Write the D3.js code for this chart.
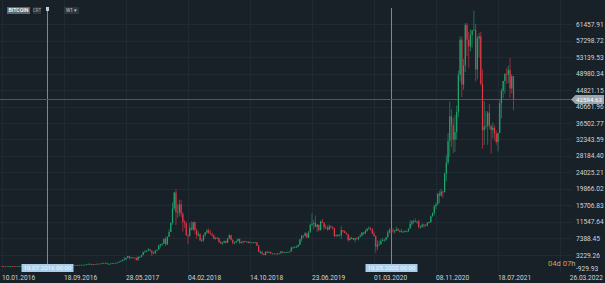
<!DOCTYPE html>
<html>
<head>
<meta charset="utf-8">
<script src="https://cdn.jsdelivr.net/npm/d3@7"></script>
<style>
  html, body { margin: 0; padding: 0; background: #192128; }
  svg { display: block; font-family: Roboto, "Noto Sans", sans-serif; }
</style>
</head>
<body>
<div id="chart"></div>
<script>
// weekly candles, first week starts 10.01.2016; each row is [high, low, close], open = previous close
const firstWeek = "2016-01-10";
const firstOpen = 448;

const weeks2016 = [
  [450,360,382],[410,370,387],[398,366,378],[380,365,373],[410,368,404],[440,400,438],[445,405,433],[440,400,408],
  [420,400,412],[420,405,408],[420,405,417],[423,410,420],[425,414,420],[430,418,427],[465,427,460],[467,440,455],
  [465,440,459],[460,450,456],[456,438,444],[535,440,530],[590,520,574],[700,570,684],[780,680,762],[770,550,665],
  [690,620,677],[705,630,652],[680,640,667],[680,650,655],[660,620,624],[630,480,588],[600,560,567],[590,565,581],
  [590,565,571],[610,570,603],[625,600,608],[612,600,609],[612,595,602],[615,598,612],[620,605,617],[640,615,640],
  [660,635,655],[720,650,712],[740,680,703],[718,690,703],[745,690,741],[745,725,735],[770,730,766],[775,750,769],
  [795,765,791],[935,790,893],[1000,880,998]
];
const weeks2017 = [
  [1140,750,908],[915,750,818],[925,810,923],[925,880,918],[1025,915,1024],[1070,940,1000],[1050,990,1050],[1185,1045,1180],
  [1280,1170,1270],[1330,1100,1230],[1250,940,960],[1100,900,965],[1090,950,1080],[1200,1060,1190],[1210,1150,1180],[1250,1175,1250],
  [1350,1240,1350],[1600,1340,1560],[1840,1560,1720],[2050,1700,2050],[2760,2000,2050],[2550,2050,2500],[2980,2450,2950],[3000,2100,2500],
  [2800,2450,2600],[2650,2350,2560],[2650,2400,2500],[2550,1850,1930],[2950,1920,2750],[2850,2500,2750],[3300,2650,3200],[4000,3150,4000],
  [4450,3800,4100],[4400,3950,4350],[4950,4300,4600],[4800,4100,4300],[4400,2980,3680],[4100,3500,3600],[4400,3600,4360],[4600,4150,4600],
  [5800,4600,5700],[6000,5100,6000],[6200,5500,6100],[7400,6000,7300],[7900,5500,5900],[7900,5800,7800],[9700,7800,9000],[11500,9000,11300],
  [16500,10800,15000],[19000,14500,19000],[19900,10800,14000],[16000,12500,14000],[17200,13000,16000]
];
const weeks2018 = [
  [17100,12800,13600],[14000,9100,11500],[12000,10000,11200],[11700,8100,8200],[8500,6000,8100],[11300,7800,10100],[11700,9400,9600],[11600,9400,11500],
  [11700,8500,9500],[9900,7300,8200],[9200,7900,8500],[8700,6800,6900],[7500,6500,7000],[8400,6600,8300],[9000,7800,8900],[9800,8600,9400],
  [9900,8800,8700],[9500,8400,8500],[8900,7900,8200],[8400,7200,7300],[7700,7100,7500],[7800,7400,7500],[7600,6300,6500],[6800,6100,6100],
  [6500,5800,6400],[6800,6200,6800],[6800,6100,6300],[7500,6300,7400],[8500,7300,8200],[8300,6900,7000],[7200,5900,6300],[6600,5900,6400],
  [6900,6200,6700],[7300,6700,7300],[7400,6100,6200],[6600,6200,6500],[6800,6100,6700],[6800,6400,6600],[6700,6500,6600],[6700,6100,6300],
  [6700,6300,6400],[6500,6400,6400],[6500,6200,6400],[6600,6300,6400],[6500,5500,5600],[5700,4000,4000],[4400,3600,4000],[4300,3300,3500],
  [3600,3200,3200],[4200,3200,4000],[4300,3600,3900],[4100,3700,4000]
];
const weeks2019 = [
  [4100,3500,3600],[3700,3500,3600],[3700,3500,3550],[3600,3400,3450],[3700,3400,3650],[3700,3550,3650],[4200,3600,4100],[4200,3700,3850],
  [3950,3700,3900],[4000,3850,4000],[4100,3900,4000],[4150,3950,4100],[5300,4100,5100],[5400,4900,5100],[5400,5000,5300],[5600,5100,5300],
  [5900,5200,5800],[7300,5700,7200],[8300,6600,8100],[8200,7500,8000],[9000,7900,8700],[8800,7500,7600],[9300,7500,8900],[11200,8900,10800],
  [13800,10500,11000],[12000,9700,11300],[13200,10300,10300],[11000,9100,10900],[10800,9200,9500],[11900,9400,11700],[12300,11300,11300],[11500,9600,10200],
  [10900,9800,10100],[10600,9400,9600],[10900,9600,10400],[10800,9900,10300],[10400,9600,10000],[10100,7700,8000],[8500,7800,8200],[8500,7800,8300],
  [8500,7900,8200],[10500,7300,9500],[9500,8900,9200],[9500,8700,8800],[8900,8300,8500],[8500,6600,7000],[7900,6900,7400],[7800,7200,7500],
  [7600,7000,7100],[7500,6400,7500],[7700,7100,7300],[7800,6900,7800]
];
const weeks2020 = [
  [8500,7700,8100],[9000,8000,8900],[9000,8300,8600],[9600,8500,9300],[9900,9100,9900],[10500,9700,9900],[10300,9400,9700],[10000,8500,8600],
  [9200,8000,8000],[8200,3800,5300],[6900,4500,5800],[6900,5700,5900],[7300,5900,6800],[7500,6700,7000],[7300,6500,7100],[7800,6800,7700],
  [9500,7600,8900],[10000,8700,9500],[9900,8100,9400],[10000,8800,9200],[9600,8600,9400],[10400,9200,9700],[10000,9300,9300],[9600,8900,9300],
  [9800,8900,9000],[9300,8900,9100],[9500,9000,9200],[9300,9000,9200],[9900,9100,9900],[12000,9900,11100],[12000,10600,11700],[12100,11100,11800],
  [12500,11500,11700],[11800,11100,11700],[12100,9900,10300],[10600,9900,10300],[11200,10200,10900],[11100,10100,10700],[11000,10400,10700],[11500,10500,11400],
  [11700,11200,11500],[13200,11400,13000],[14000,12900,13800],[15900,13200,15500],[16500,14800,16000],[18800,15900,18700],[19400,16300,18200],[19900,18000,19200],
  [19400,17600,19100],[24000,19000,23800],[28400,21800,26500],[34000,26000,32000]
];
const weeks2021 = [
  [41900,28000,38200],[40000,30500,36000],[37800,28800,32300],[38500,29200,34200],[40900,32300,39300],[49700,38000,48600],[58300,47000,57500],[58300,43000,46200],
  [52600,44900,51000],[61700,49300,61200],[61700,53300,57500],[59500,50400,55800],[60100,54600,58700],[60000,55500,59800],[64800,59700,60000],[61500,47000,50000],
  [58500,47500,57800],[59200,53000,58300],[59500,46000,46400],[50000,30000,34700],[42000,31000,35600],[39500,35000,35800],[39500,31000,39100],[41300,35000,35800],
  [36000,28800,34700],[36600,32700,35300],[35900,32100,33800],[34600,31000,31700],[34000,29300,34000],[42300,33900,41500],[45200,37700,44600],[47100,42800,47100],
  [49000,43900,48900],[50400,46400,48800],[51000,46500,49900],[52900,42800,45200],[48800,44000,48300],[48300,39700,42594.63]
];

const priceTicks = ["61457.91","57298.72","53139.53","48980.34","44821.15","40661.96","36502.77","32343.59",
  "28184.40","24025.21","19866.02","15706.83","11547.64","7388.45","3229.26","-929.93"];
const dateTicks = ["10.01.2016","18.09.2016","28.05.2017","04.02.2018","14.10.2018","23.06.2019","01.03.2020","08.11.2020","18.07.2021","26.03.2022"];
const markerDates = ["10.07.2016 00:00","10.05.2020 00:00"];
const lastPrice = 42594.63;
const symbol = "BITCOIN";
const timeLeft = [["04","d"],["07","h"]];

class CandleChart {
  constructor(_config, rows) {
    this.config = {
      parentElement: _config.parentElement,
      containerWidth: 605,
      containerHeight: 283,
      plotRight: 572,
      up: "#1ea66c",
      down: "#e3374a",
      bg: "#192128"
    };
    this.rows = rows;
    this.initVis();
  }

  initVis() {
    let vis = this;
    const parseD = d3.timeParse("%d.%m.%Y");
    const parseDT = d3.timeParse("%d.%m.%Y %H:%M");

    vis.svg = d3.select(vis.config.parentElement).append("svg")
      .attr("width", vis.config.containerWidth)
      .attr("height", vis.config.containerHeight);

    vis.svg.append("rect").attr("width", vis.config.containerWidth).attr("height", vis.config.containerHeight)
      .attr("fill", vis.config.bg);

    // 36 weeks = 62px
    const d0 = parseD(dateTicks[0]);
    const d1 = parseD(dateTicks[dateTicks.length - 1]);
    vis.x = d3.scaleTime().domain([d0, d1]).range([2, 2 + d3.timeDay.count(d0, d1) * 62 / 252]);
    vis.y = d3.scaleLinear().domain([+priceTicks[priceTicks.length - 1], +priceTicks[0]]).range([271.5, 24]);

    const start = d3.timeParse("%Y-%m-%d")(firstWeek);
    let prev = firstOpen;
    vis.data = vis.rows.map((r, i) => {
      const c = { date: d3.timeWeek.offset(start, i), open: prev, high: r[0], low: r[1], close: r[2] };
      prev = r[2];
      return c;
    });

    // grid
    const grid = vis.svg.append("g").attr("stroke", "#202a32").attr("stroke-width", 1);
    grid.selectAll(".vg").data(dateTicks).join("line")
      .attr("x1", d => Math.round(vis.x(parseD(d))) + 0.5).attr("x2", d => Math.round(vis.x(parseD(d))) + 0.5)
      .attr("y1", 0).attr("y2", 272);
    grid.selectAll(".hg").data(priceTicks.slice(0, -1)).join("line")
      .attr("x1", 0).attr("x2", vis.config.plotRight)
      .attr("y1", d => Math.round(vis.y(+d)) + 0.5).attr("y2", d => Math.round(vis.y(+d)) + 0.5);

    // marker lines
    vis.markers = markerDates.map(s => ({ label: s, x: Math.round(vis.x(parseDT(s))) + 0.5 }));
    vis.svg.selectAll(".vline").data(vis.markers).join("line")
      .attr("x1", d => d.x).attr("x2", d => d.x).attr("y1", 8).attr("y2", 264)
      .attr("stroke", "#6f8ca5").attr("stroke-width", 1);

    // last price line
    const py = Math.round(vis.y(lastPrice)) + 0.5;
    vis.svg.append("line").attr("x1", 0).attr("x2", vis.config.plotRight).attr("y1", py).attr("y2", py)
      .attr("stroke", "#4c5863").attr("stroke-width", 1);

    vis.renderVis();
    vis.renderAxes(parseD, py);
  }

  renderVis() {
    let vis = this;
    const bw = 1.2;
    const g = vis.svg.append("g");
    const candles = g.selectAll("g").data(vis.data).join("g")
      .attr("fill", d => d.close >= d.open ? vis.config.up : vis.config.down)
      .attr("stroke", d => d.close >= d.open ? vis.config.up : vis.config.down);
    candles.append("line")
      .attr("x1", d => vis.x(d.date)).attr("x2", d => vis.x(d.date))
      .attr("y1", d => vis.y(d.high)).attr("y2", d => vis.y(d.low))
      .attr("stroke-width", 0.6);
    candles.append("rect")
      .attr("stroke", "none")
      .attr("x", d => vis.x(d.date) - bw / 2)
      .attr("width", bw)
      .attr("y", d => vis.y(Math.max(d.open, d.close)))
      .attr("height", d => Math.max(0.8, Math.abs(vis.y(d.open) - vis.y(d.close))));
  }

  renderAxes(parseD, py) {
    let vis = this;
    const txt = "#cdd4da";

    vis.svg.selectAll(".pt").data(priceTicks).join("text")
      .attr("x", 576).attr("y", d => Math.min(vis.y(+d), 268) + 2.5)
      .attr("fill", txt).attr("font-size", 6.6).text(d => d);

    vis.svg.selectAll(".dt").data(dateTicks).join("text")
      .attr("x", (d, i) => vis.x(parseD(d)) + (i === dateTicks.length - 1 ? 10 : 0))
      .attr("y", 279.5)
      .attr("fill", txt).attr("font-size", 6.6).text(d => d);

    // price flag
    vis.svg.append("path")
      .attr("d", `M571,${py} L575.5,${py - 4.5} L604,${py - 4.5} L604,${py + 4.5} L575.5,${py + 4.5} Z`)
      .attr("fill", "#9ba6b0");
    vis.svg.append("text").attr("x", 576).attr("y", py + 2.3).attr("fill", "#ffffff")
      .attr("font-size", 6.2).attr("textLength", 26).text(lastPrice.toFixed(2));

    // marker time labels
    const ml = vis.svg.selectAll(".ml").data(vis.markers).join("g");
    ml.append("rect").attr("x", d => d.x - 26).attr("y", 264).attr("width", 52).attr("height", 8)
      .attr("fill", "#a9cdea");
    ml.append("text").attr("x", d => d.x).attr("y", 270.3).attr("text-anchor", "middle")
      .attr("fill", "#eef6fd").attr("font-size", 6.2).text(d => d.label);

    // time to close
    const tl = vis.svg.append("text").attr("x", 548).attr("y", 265.5).attr("font-size", 7.6);
    timeLeft.forEach((p, i) => {
      tl.append("tspan").attr("fill", "#e89a2c").text((i ? " " : "") + p[0]);
      tl.append("tspan").attr("fill", "#a7b0b8").text(p[1]);
    });

    // header
    const hd = vis.svg.append("g");
    hd.append("rect").attr("x", 7).attr("y", 7).attr("width", 23).attr("height", 7).attr("fill", "#5c6771");
    hd.append("text").attr("x", 18.5).attr("y", 12.4).attr("text-anchor", "middle").attr("fill", "#f2f4f6")
      .attr("font-size", 5.2).attr("font-weight", "bold").text(symbol);
    hd.append("rect").attr("x", 33).attr("y", 7).attr("width", 8).attr("height", 7).attr("fill", "#2c363f");
    hd.append("text").attr("x", 37).attr("y", 12.2).attr("text-anchor", "middle").attr("fill", "#98a2ab")
      .attr("font-size", 4.6).text("CRT");
    hd.append("rect").attr("x", vis.markers[0].x - 1.5).attr("y", 7).attr("width", 3).attr("height", 4).attr("fill", "#b9cfe2");
    hd.append("rect").attr("x", 64).attr("y", 7).attr("width", 15).attr("height", 7).attr("fill", "#2c363f");
    hd.append("text").attr("x", 66).attr("y", 12.2).attr("fill", "#c9d0d6").attr("font-size", 4.8).text("W1");
    hd.append("text").attr("x", 74).attr("y", 12.2).attr("fill", "#c9d0d6").attr("font-size", 4.8).text("▾");
  }
}

const rows = [].concat(weeks2016, weeks2017, weeks2018, weeks2019, weeks2020, weeks2021);
new CandleChart({ parentElement: "#chart" }, rows);
</script>
</body>
</html>
